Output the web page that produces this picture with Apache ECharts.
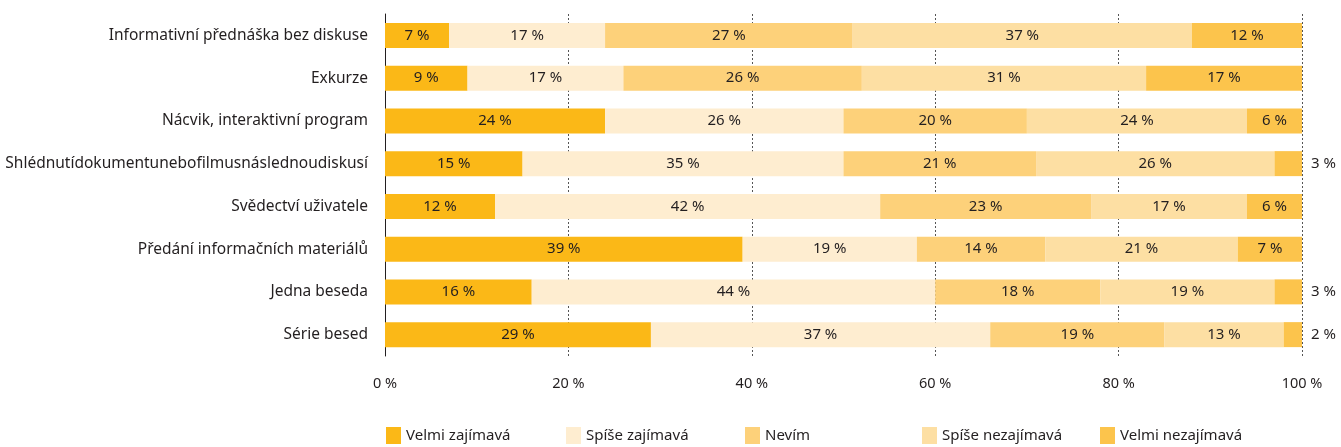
<!DOCTYPE html>
<html>
<head>
<meta charset="utf-8">
<script src="https://cdn.jsdelivr.net/npm/echarts@6/dist/echarts.min.js"></script>
<style>
  html, body { margin: 0; padding: 0; background: #fff; }
  #chart { width: 1341px; height: 447px; }
</style>
</head>
<body>
<div id="chart"></div>
<script>
// kategorie (shora dolů)
const categories = [
  "Informativní přednáška bez diskuse",
  "Exkurze",
  "Nácvik, interaktivní program",
  "Shlédnutídokumentunebofilmusnáslednoudiskusí",
  "Svědectví uživatele",
  "Předání informačních materiálů",
  "Jedna beseda",
  "Série besed"
];
const seriesNames = ["Velmi zajímavá", "Spíše zajímavá", "Nevím", "Spíše nezajímavá", "Velmi nezajímavá"];
const velmiZajimava = [7, 9, 24, 15, 12, 39, 16, 29];
const spiseZajimava = [17, 17, 26, 35, 42, 19, 44, 37];
const nevim = [27, 26, 20, 21, 23, 14, 18, 19];
const spiseNezajimava = [37, 31, 24, 26, 17, 21, 19, 13];
const velmiNezajimava = [12, 17, 6, 3, 6, 7, 3, 2];
const tickLabels = ["0 %", "20 %", "40 %", "60 %", "80 %", "100 %"];

const colors = ["#fbb817", "#feedd0", "#fdd17a", "#fddfa3", "#fcc44c"];
const font = "Noto Sans";
const values = [velmiZajimava, spiseZajimava, nevim, spiseNezajimava, velmiNezajimava];

let chart = echarts.init(document.getElementById("chart"));

const series = seriesNames.map((name, i) => ({
  name: name,
  type: "bar",
  stack: "total",
  barWidth: 25,
  itemStyle: { color: colors[i] },
  label: {
    show: true,
    position: "inside",
    color: "#231f20",
    fontFamily: font,
    fontSize: 15,
    formatter: p => p.value + " %"
  },
  data: values[i].map(v => (v <= 3 && i === 4)
    ? { value: v, label: { position: "right", distance: 9 } }
    : v)
}));

const legendLeft = [386, 566, 745, 922, 1100];

chart.setOption({
  animation: false,
  grid: { left: 385, right: 39, top: 14, bottom: 91 },
  legend: seriesNames.map((n, i) => ({
    data: [n],
    left: legendLeft[i],
    top: 427,
    padding: 0,
    itemWidth: 15,
    itemHeight: 17,
    itemGap: 10,
    icon: "rect",
    textStyle: { fontFamily: font, fontSize: 15, color: "#231f20" }
  })),
  xAxis: {
    type: "value",
    min: 0,
    max: 100,
    interval: 20,
    axisLine: { show: false },
    axisTick: { show: false },
    splitLine: { show: true, lineStyle: { color: "#555", type: [2, 2], width: 1 } },
    axisLabel: {
      margin: 20,
      color: "#231f20",
      fontFamily: font,
      fontSize: 14.5,
      formatter: v => tickLabels[v / 20]
    }
  },
  yAxis: {
    type: "category",
    inverse: true,
    data: categories,
    axisLine: { show: true, lineStyle: { color: "#231f20", width: 1 } },
    axisTick: { show: false },
    axisLabel: {
      margin: 17,
      color: "#231f20",
      fontFamily: font,
      fontSize: 15.5
    }
  },
  series: series
});
</script>
</body>
</html>
